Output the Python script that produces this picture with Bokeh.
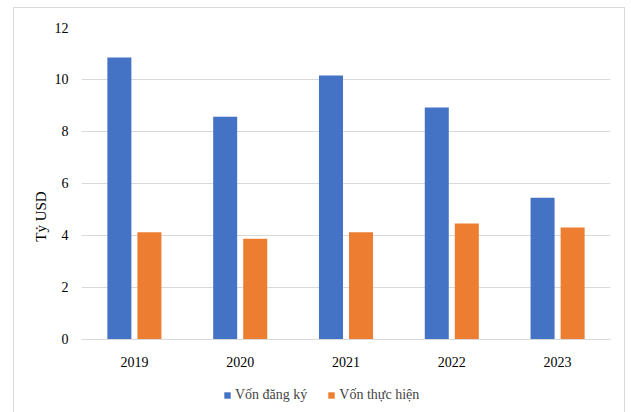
from bokeh.plotting import figure
from bokeh.models import FactorRange, Range1d, Legend, LegendItem, FixedTicker, ColumnDataSource
from bokeh.transform import dodge
from bokeh.embed import file_html
from bokeh.resources import INLINE

years = ["2019", "2020", "2021", "2022", "2023"]
registered = [10.85, 8.57, 10.15, 8.92, 5.45]
implemented = [4.12, 3.87, 4.12, 4.46, 4.31]
series_names = ["Vốn đăng ký", "Vốn thực hiện"]
y_ticks = [0, 2, 4, 6, 8, 10, 12]
y_title = "Tỷ USD"

BLUE = "#4472C4"
ORANGE = "#ED7D31"
GRID = "#d9d9d9"
FONT = "Liberation Serif"

src = ColumnDataSource(dict(years=years, reg=registered, imp=implemented))

p = figure(width=631, height=412, x_range=FactorRange(factors=years, range_padding=0),
           y_range=Range1d(-2.54, 12), output_backend="svg", toolbar_location=None,
           min_border_left=81, min_border_right=21, min_border_top=27, min_border_bottom=7)
p.outline_line_color = None
p.background_fill_color = "white"
p.border_fill_alpha = 0
p.styles = {
    "background-color": "white",
    "box-shadow": ("inset 13px 7px 0 0 white, inset -6px 0 0 0 white, "
                   "inset 14px 8px 0 0 #d9d9d9, inset -7px 0 0 0 #d9d9d9"),
}

r1 = p.vbar(x=dodge("years", -0.142, range=p.x_range), top="reg", width=0.227, source=src,
            fill_color=BLUE, line_color=None)
r2 = p.vbar(x=dodge("years", 0.142, range=p.x_range), top="imp", width=0.227, source=src,
            fill_color=ORANGE, line_color=None)

p.xgrid.grid_line_color = None
p.ygrid.grid_line_color = GRID
p.ygrid.grid_line_width = 1
p.ygrid.ticker = FixedTicker(ticks=y_ticks)
p.yaxis.ticker = FixedTicker(ticks=y_ticks)
p.yaxis.bounds = (-1, 12)

for ax in (p.xaxis[0], p.yaxis[0]):
    ax.major_tick_line_color = None
    ax.minor_tick_line_color = None
    ax.major_label_text_font = FONT
    ax.major_label_text_font_size = "14px"
    ax.major_label_text_color = "#000000"
p.yaxis.axis_line_color = None
p.yaxis.major_label_standoff = 7
p.yaxis.axis_label = y_title
p.yaxis.axis_label_text_font = FONT
p.yaxis.axis_label_text_font_size = "15px"
p.yaxis.axis_label_text_font_style = "normal"
p.yaxis.axis_label_text_color = "#000000"
p.yaxis.axis_label_standoff = 3

p.xaxis.fixed_location = 0
p.xaxis.axis_line_color = GRID
p.xaxis.major_label_standoff = 12

legend = Legend(items=[LegendItem(label=series_names[0], renderers=[r1]),
                       LegendItem(label=series_names[1], renderers=[r2])],
                orientation="horizontal", location=(142, 2), padding=0, margin=0,
                glyph_width=8, glyph_height=8, label_standoff=4, spacing=20,
                label_text_font=FONT, label_text_font_size="14px", border_line_color=None,
                background_fill_alpha=0)
p.add_layout(legend, "center")

open("out.html", "w").write(file_html(p, INLINE))
